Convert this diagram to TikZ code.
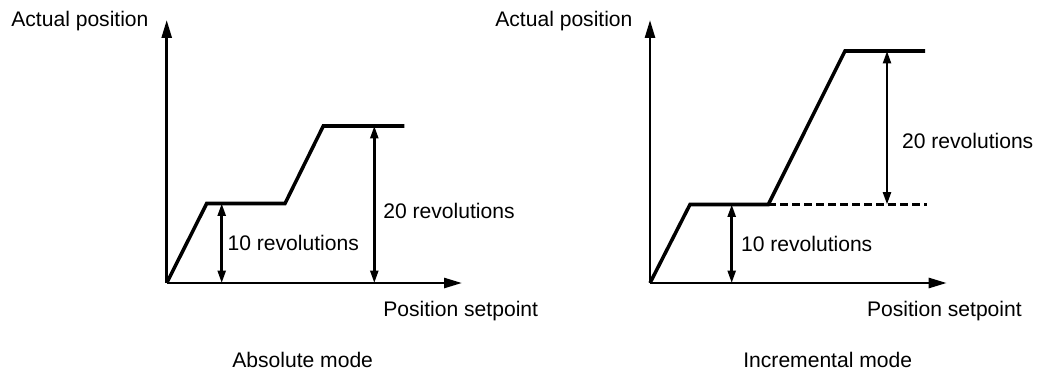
\documentclass[tikz,border=0pt]{standalone}
\usepackage{fontspec}
\setmainfont{Liberation Sans}
\usetikzlibrary{arrows.meta}
\tikzset{
  axis/.style={-{Triangle[length=3.6mm, width=2mm]}, line width=1.5pt},
  curve/.style={line width=2pt, line join=miter},
  ext/.style={line width=1.6pt, dash pattern=on 1.6mm off 0.8mm},
  dim/.style={{Triangle[length=2.5mm, width=1.6mm]}-{Triangle[length=2.5mm, width=1.6mm]}, line width=1.4pt},
  lbl/.style={anchor=base west, inner sep=0pt, font=\fontsize{12}{14}\selectfont},
}
\begin{document}
\begin{tikzpicture}[x=0.02cm, y=-0.02cm]
  \useasboundingbox (0,0) rectangle (1045,372);

  % absolute mode
  \coordinate (lo) at (166.7,283);
  \coordinate (ly) at (166.7,20);
  \coordinate (lx) at (462,283);
  \coordinate (la) at (206.7,203.5);
  \coordinate (lb) at (285,203.5);
  \coordinate (lc) at (323.3,126);
  \coordinate (ld) at (404.3,126);
  \coordinate (l10t) at (221.7,203.5);
  \coordinate (l10b) at (221.7,283);
  \coordinate (l20t) at (374.3,126);
  \coordinate (l20b) at (374.3,283);
  \draw[axis] (lo) -- (ly);
  \draw[axis] (lo) -- (lx);
  \draw[curve] (lo) -- (la) -- (lb) -- (lc) -- (ld);
  \draw[dim] (l10t) -- (l10b);
  \draw[dim] (l20t) -- (l20b);
  \node[lbl] (lyl) at (11,27) {Actual position};
  \node[lbl] (lxl) at (383,316.7) {Position setpoint};
  \node[lbl] (l10l) at (227.3,250) {10 revolutions};
  \node[lbl] (l20l) at (383,218) {20 revolutions};
  \node[lbl] (ltitle) at (232,367) {Absolute mode};

  % incremental mode
  \coordinate (ro) at (650,283);
  \coordinate (ry) at (650,20);
  \coordinate (rx) at (946.7,283);
  \coordinate (ra) at (690,204.5);
  \coordinate (rb) at (768.3,204.5);
  \coordinate (rc) at (845,51);
  \coordinate (rd) at (925,51);
  \coordinate (re) at (926.7,204.5);
  \coordinate (r10t) at (731.7,204.5);
  \coordinate (r10b) at (731.7,283);
  \coordinate (r20t) at (887,51);
  \coordinate (r20b) at (887,204.5);
  \draw[axis] (ro) -- (ry);
  \draw[axis] (ro) -- (rx);
  \draw[curve] (ro) -- (ra) -- (rb) -- (rc) -- (rd);
  \draw[ext] (rb) -- (re);
  \draw[dim] (r10t) -- (r10b);
  \draw[dim] (r20t) -- (r20b);
  \node[lbl] (ryl) at (495,27) {Actual position};
  \node[lbl] (rxl) at (866.7,316.7) {Position setpoint};
  \node[lbl] (r10l) at (740.7,251) {10 revolutions};
  \node[lbl] (r20l) at (901.7,148) {20 revolutions};
  \node[lbl] (rtitle) at (743,367) {Incremental mode};
\end{tikzpicture}
\end{document}
